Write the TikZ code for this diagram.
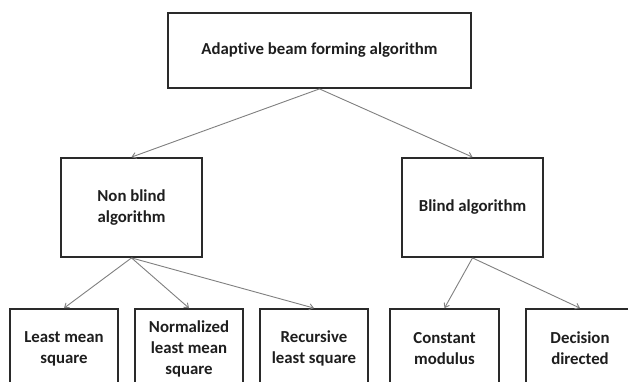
\documentclass[tikz,border=0pt]{standalone}
\usepackage{fontspec}
\setmainfont[Ligatures=NoCommon]{Carlito}
\usetikzlibrary{arrows.meta}
\definecolor{boxline}{HTML}{2A2A2A}
\definecolor{conn}{HTML}{808080}
\definecolor{txt}{HTML}{1E1E1E}
\begin{document}
\begin{tikzpicture}[x=1pt,y=-1pt,
  box/.style={draw=boxline,line width=1.8pt,fill=white,inner sep=2pt,
    font=\fontsize{16.8}{21}\selectfont\bfseries,text=txt,align=center},
  conn/.style={draw=conn,line width=0.9pt,-{Straight Barb[length=4pt,width=6pt]}}]
\clip (0,0) rectangle (628,381);
\fill[white] (0,0) rectangle (628,381);
\node[box,minimum width=303pt,minimum height=75pt] (top) at (319.5,50.5) {Adaptive beam forming algorithm};
\node[box,minimum width=141pt,minimum height=99pt] (nb) at (131.5,207.5) {Non blind\\algorithm};
\node[box,minimum width=141pt,minimum height=99pt] (bl) at (472.5,207.5) {Blind algorithm};
\node[box,minimum width=108pt,minimum height=79pt] (lms) at (64,348.5) {Least mean\\square};
\node[box,minimum width=108pt,minimum height=79pt] (nlms) at (189,348.5) {Normalized\\least mean\\square};
\node[box,minimum width=108pt,minimum height=79pt] (rls) at (314,348.5) {Recursive\\least square};
\node[box,minimum width=109pt,minimum height=79pt] (cm) at (444.5,348.5) {Constant\\modulus};
\node[box,minimum width=108pt,minimum height=79pt] (dd) at (580,348.5) {Decision\\directed};
\draw[conn] (top.south) -- (nb.north);
\draw[conn] (top.south) -- (bl.north);
\draw[conn] (nb.south) -- (lms.north);
\draw[conn] (nb.south) -- (nlms.north);
\draw[conn] (nb.south) -- (rls.north);
\draw[conn] (bl.south) -- (cm.north);
\draw[conn] (bl.south) -- (dd.north);
\end{tikzpicture}
\end{document}
